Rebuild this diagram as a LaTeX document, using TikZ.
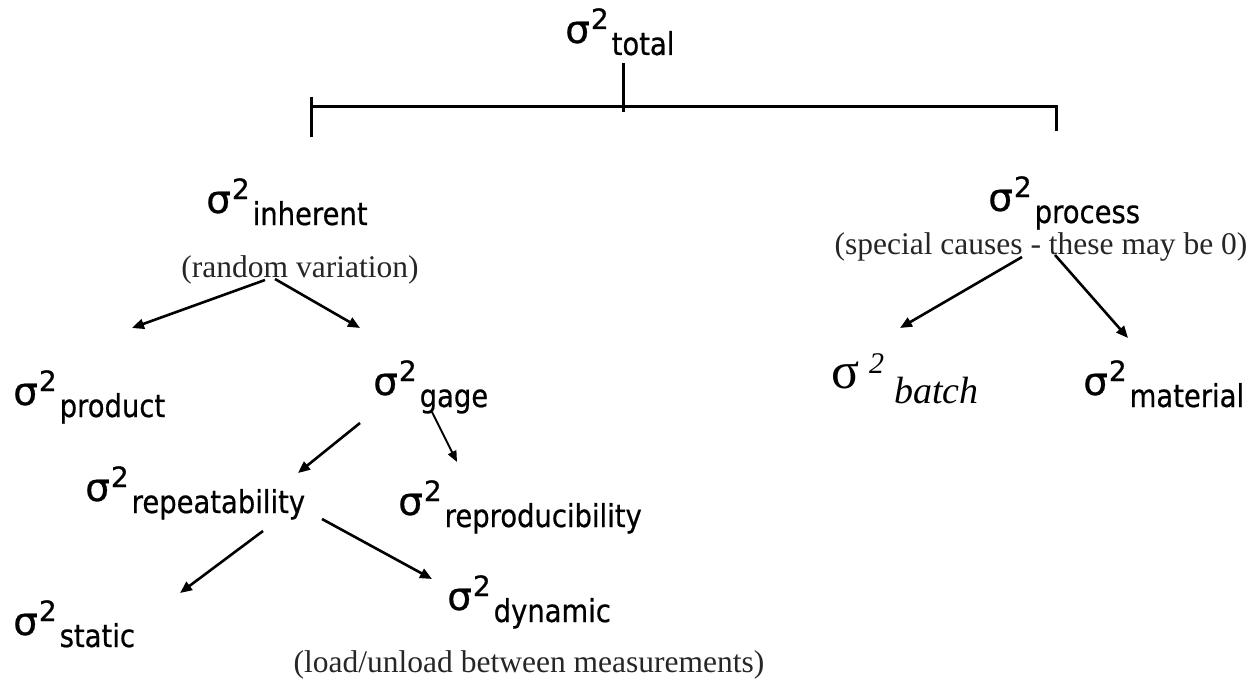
\documentclass[tikz,border=0pt]{standalone}
\usepackage{fontspec}
\setmainfont{Liberation Serif}
\newfontfamily\sgfont[FakeBold=0.6]{DejaVu Sans}
\newfontfamily\subfont[FakeStretch=0.87,FakeBold=0.6]{DejaVu Sans}
\usetikzlibrary{arrows.meta}
\newcommand{\sigl}[1]{{\sgfont\fontsize{39}{40}\selectfont σ}\hspace{1pt}\raisebox{14pt}{\sgfont\fontsize{28}{28}\selectfont 2}\hspace{3pt}\raisebox{-12pt}{\subfont\fontsize{31.5}{33}\selectfont #1}}
\tikzset{
  lab/.style={inner sep=0pt, anchor=base west, text=black},
  note/.style={inner sep=0pt, anchor=base, font=\fontsize{31.5}{33}\selectfont, text=black!85},
  br/.style={line width=3pt},
  arr/.style={line width=2.6pt, -{Triangle[length=12pt,width=10pt]}},
  thinarr/.style={line width=2pt, -{Triangle[length=11pt,width=9pt]}}
}
\begin{document}
\begin{tikzpicture}[x=1pt,y=-1pt]
\useasboundingbox (0,0) rectangle (1255,682);
% labels
\node[lab] (total) at (565,43) {\sigl{total}};
\node[lab] (inh) at (206,213) {\sigl{inherent}};
\node[note] (inhnote) at (300,277) {(random variation)};
\node[lab] (proc) at (988,211) {\sigl{process}};
\node[note] (procnote) at (1041,254) {(special causes - these may be 0)};
\node[lab] (prod) at (13,405) {\sigl{product}};
\node[lab] (gage) at (373,395) {\sigl{gage}};
\node[lab] (batch) at (831,388) {{\fontsize{52}{54}\selectfont σ}\hspace{10pt}\raisebox{15pt}{\fontsize{30}{30}\selectfont\itshape 2}\hspace{10pt}\raisebox{-15pt}{\fontsize{38}{39}\selectfont\itshape batch}};
\node[lab] (mat) at (1083,395) {\sigl{material}};
\node[lab] (rep) at (85,501) {\sigl{repeatability}};
\node[lab] (repro) at (398,515) {\sigl{reproducibility}};
\node[lab] (stat) at (13,635) {\sigl{static}};
\node[lab] (dyn) at (447,610) {\sigl{dynamic}};
\node[note] (dynnote) at (529,672) {(load/unload between measurements)};
% bracket
\coordinate (ctop) at (623,63);
\coordinate (cbar) at (623,107);
\coordinate (cbot) at (623,112);
\coordinate (lbar) at (311,107);
\coordinate (ltop) at (311,97);
\coordinate (lbot) at (311,137);
\coordinate (rbar) at (1056,107);
\coordinate (rbot) at (1056,131);
\draw[br] (ctop) -- (cbot);
\draw[br] (lbar) -- (rbar);
\draw[br] (ltop) -- (lbot);
\draw[br] ([xshift=-1.5pt]rbar) -- (rbar) -- (rbot);
% arrow end points
\coordinate (a1s) at (265,280); \coordinate (a1e) at (132,328);
\coordinate (a2s) at (275,279); \coordinate (a2e) at (360,328);
\coordinate (a3s) at (360,423); \coordinate (a3e) at (298,473);
\coordinate (a4s) at (432,412); \coordinate (a4e) at (457,462);
\coordinate (a5s) at (263,531); \coordinate (a5e) at (180,593);
\coordinate (a6s) at (322,519); \coordinate (a6e) at (432,579);
\coordinate (a7s) at (1022,257); \coordinate (a7e) at (900,328);
\coordinate (a8s) at (1055,255); \coordinate (a8e) at (1128,338);
\draw[arr] (a1s) -- (a1e);
\draw[arr] (a2s) -- (a2e);
\draw[arr] (a3s) -- (a3e);
\draw[thinarr] (a4s) -- (a4e);
\draw[arr] (a5s) -- (a5e);
\draw[arr] (a6s) -- (a6e);
\draw[arr] (a7s) -- (a7e);
\draw[arr] (a8s) -- (a8e);
\end{tikzpicture}
\end{document}
